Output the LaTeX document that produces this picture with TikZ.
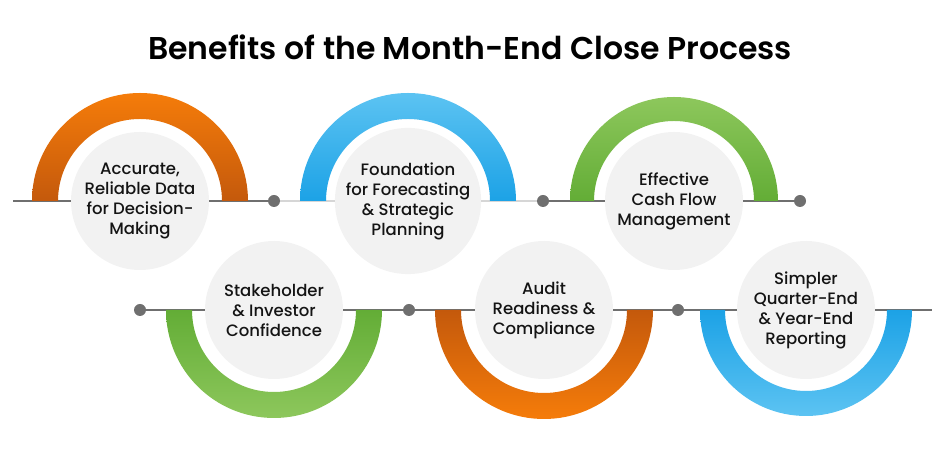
\documentclass[tikz,border=0pt]{standalone}
\usepackage{fontspec}
\setmainfont{Poppins}[BoldFont={* SemiBold}]
\newfontfamily\medfont{Poppins Medium}
\usepackage{tikz}
\usetikzlibrary{positioning}
\definecolor{Orange}{HTML}{F57C0A}
\definecolor{OrangeDark}{HTML}{C4590C}
\definecolor{Blue}{HTML}{5CC3F2}
\definecolor{BlueDark}{HTML}{1CA2E6}
\definecolor{Green}{HTML}{8DC75C}
\definecolor{GreenDark}{HTML}{63AD36}
\definecolor{Disc}{HTML}{F2F2F2}
\definecolor{Rule}{HTML}{6F6F6F}
\definecolor{RuleLight}{HTML}{D6D6D6}

\begin{document}
\begin{tikzpicture}[x=1pt,y=1pt,
    disc/.style={circle,fill=Disc,minimum size=138pt,inner sep=0pt,align=center,
      font=\medfont\fontsize{16.5}{20}\selectfont,text=black!92,
      execute at begin node=\rule{0pt}{24pt}},
    dot/.style={circle,fill=Rule,minimum size=12pt,inner sep=0pt},
    ln/.style={Rule,line width=2.2pt},
    lnlight/.style={RuleLight,line width=1.6pt}]
      \useasboundingbox(0,0)rectangle(940,473);
      \node[font=\bfseries\fontsize{31.5}{36}\selectfont]at(470,426){Benefits of the Month-End Close Process};
      \node[disc](c1)at(140,272){Accurate,\\Reliable Data\\for Decision-\\Making};
      \node[disc](c2)at(408,272){Foundation\\for Forecasting\\\& Strategic\\Planning};
      \node[disc](c3)at(674,272){Effective\\Cash Flow\\Management};
      \node[disc](c4)at(274,163){Stakeholder\\\& Investor\\Confidence};
      \node[disc](c5)at(544,163){Audit\\Readiness \&\\Compliance};
      \node[disc](c6)at(806,163){Simpler\\Quarter-End\\\& Year-End\\Reporting};
      \node[dot](d1)at(274,272){};
      \node[dot](d2)at(543,272){};
      \node[dot](d3)at(800,272){};
      \node[dot](d4)at(140,163){};
      \node[dot](d5)at(409,163){};
      \node[dot](d6)at(678,163){};
      \coordinate(s1)at(13,272);
      \coordinate(e6)at(932,163);
      \draw[ln](s1)--(c1);
      \draw[ln](c1)--(d1);
      \draw[lnlight](d1)--(c2);
      \draw[lnlight](c2)--(d2);
      \draw[ln](d2)--(c3);
      \draw[ln](c3)--(d3);
      \draw[ln](d4)--(c4);
      \draw[ln](c4)--(d5);
      \draw[ln](d5)--(c5);
      \draw[ln](c5)--(d6);
      \draw[ln](d6)--(c6);
      \draw[ln](c6)--(e6);
      \shade[top color=Orange,bottom color=OrangeDark]([xshift=-108]c1.center)arc[start angle=180,end angle=0,radius=108]--([xshift=82]c1.center)arc[start angle=0,end angle=180,radius=82]--cycle;
      \shade[top color=Blue,bottom color=BlueDark]([xshift=-108]c2.center)arc[start angle=180,end angle=0,radius=108]--([xshift=82]c2.center)arc[start angle=0,end angle=180,radius=82]--cycle;
      \shade[top color=Green,bottom color=GreenDark]([xshift=-104]c3.center)arc[start angle=180,end angle=0,radius=104]--([xshift=80]c3.center)arc[start angle=0,end angle=180,radius=80]--cycle;
      \shade[top color=GreenDark,bottom color=Green]([xshift=-108]c4.center)arc[start angle=180,end angle=360,radius=108]--([xshift=82]c4.center)arc[start angle=360,end angle=180,radius=82]--cycle;
      \shade[top color=OrangeDark,bottom color=Orange]([xshift=-109]c5.center)arc[start angle=180,end angle=360,radius=109]--([xshift=83]c5.center)arc[start angle=360,end angle=180,radius=83]--cycle;
      \shade[top color=BlueDark,bottom color=Blue]([xshift=-106]c6.center)arc[start angle=180,end angle=360,radius=106]--([xshift=81]c6.center)arc[start angle=360,end angle=180,radius=81]--cycle;
    \end{tikzpicture}
\end{document}
